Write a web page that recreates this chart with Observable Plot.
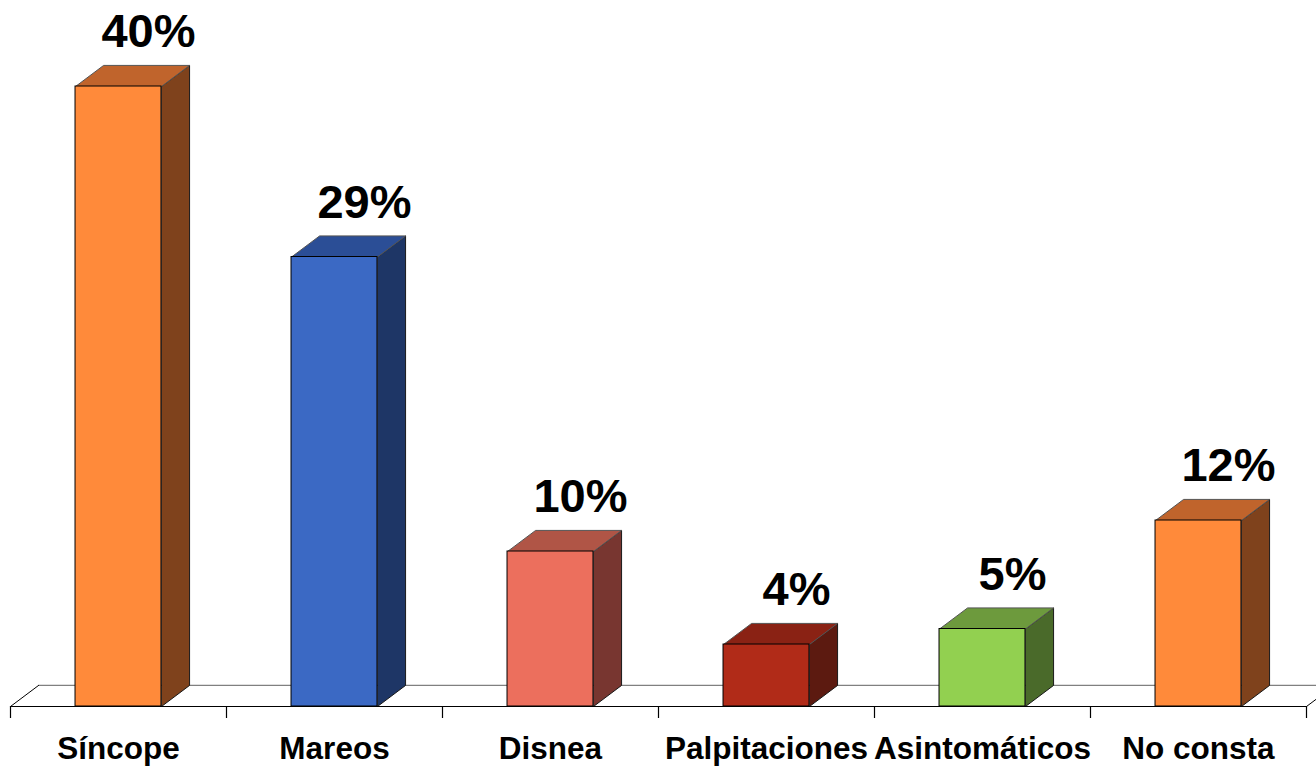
<!DOCTYPE html>
<html>
<head>
<meta charset="utf-8">
<script src="https://cdn.jsdelivr.net/npm/d3@7"></script>
<script src="https://cdn.jsdelivr.net/npm/@observablehq/plot@0.6"></script>
<style>
  html, body { margin: 0; padding: 0; background: #fff; }
  #chart svg { display: block; }
</style>
</head>
<body>
<div id="chart"></div>
<script>
// ---- data ----
const categories = ["Síncope", "Mareos", "Disnea", "Palpitaciones", "Asintomáticos", "No consta"];
const values = [40, 29, 10, 4, 5, 12];
const valueLabels = ["40%", "29%", "10%", "4%", "5%", "12%"];

// ---- styles ----
const frontColors = ["#FF8A3A", "#3B69C4", "#EC6F5D", "#B12B18", "#92D050", "#FF8A3A"];
const topColors   = ["#C0642C", "#2B4E96", "#B05546", "#8A2214", "#6D9A3D", "#C0642C"];
const sideColors  = ["#7F421C", "#1E3666", "#783630", "#5C1A10", "#4A6A2A", "#7F421C"];

// geometry (3-D depth offsets in data units)
const barWidth = 0.398;     // fraction of a category slot
const depthX = 0.13;        // ~28px
const depthY = 1.36;        // ~21px

const rows = categories.map((c, i) => ({
  i, c, v: values[i], label: valueLabels[i],
  x1: i - barWidth / 2, x2: i + barWidth / 2,
  front: frontColors[i], top: topColors[i], side: sideColors[i]
}));

const sidePts = rows.flatMap(d => [
  {k: d.c, x: d.x2, y: 0, f: d.side},
  {k: d.c, x: d.x2 + depthX, y: depthY, f: d.side},
  {k: d.c, x: d.x2 + depthX, y: d.v + depthY, f: d.side},
  {k: d.c, x: d.x2, y: d.v, f: d.side}
]);
const topPts = rows.flatMap(d => [
  {k: d.c, x: d.x1, y: d.v, f: d.top},
  {k: d.c, x: d.x1 + depthX, y: d.v + depthY, f: d.top},
  {k: d.c, x: d.x2 + depthX, y: d.v + depthY, f: d.top},
  {k: d.c, x: d.x2, y: d.v, f: d.top}
]);

const xMin = -0.5, xMax = categories.length - 0.5;
const floorBack = [{x: xMin + depthX, y: depthY}, {x: xMax + depthX, y: depthY}];
const floorFront = [{x: xMin, y: 0}, {x: xMax, y: 0}];
const floorLeft = [{x: xMin, y: 0}, {x: xMin + depthX, y: depthY}];
const floorRight = [{x: xMax, y: 0}, {x: xMax + depthX, y: depthY}];
const boundaries = d3.range(categories.length + 1).map(i => i - 0.5);

const font = "'Liberation Sans', Arial, sans-serif";

const chart = Plot.plot({
  width: 1316,
  height: 770,
  marginLeft: 10,
  marginRight: 10,
  marginTop: 8.5,
  marginBottom: 64,
  style: {fontFamily: font, background: "#fff"},
  x: {type: "linear", domain: [xMin, xMax], axis: null},
  y: {domain: [0, 45], axis: null},
  marks: [
    Plot.line(floorBack, {x: "x", y: "y", stroke: "#808080", strokeWidth: 1.2}),
    Plot.line(floorLeft, {x: "x", y: "y", stroke: "#000", strokeWidth: 1}),
    Plot.line(floorRight, {x: "x", y: "y", stroke: "#000", strokeWidth: 1}),
    Plot.axisX({ticks: boundaries, tickSize: 12, tickFormat: () => "", stroke: "#000", strokeWidth: 1.2, strokeOpacity: 1}),
    Plot.line(sidePts, {x: "x", y: "y", z: "k", fill: "f", stroke: "#1a1a1a", strokeWidth: 1, curve: "linear-closed"}),
    Plot.line(topPts, {x: "x", y: "y", z: "k", fill: "f", stroke: "#555", strokeWidth: 1, curve: "linear-closed"}),
    Plot.rect(rows, {x1: "x1", x2: "x2", y1: 0, y2: "v", fill: "front", stroke: "#000", strokeWidth: 1}),
    Plot.line(floorFront, {x: "x", y: "y", stroke: "#000", strokeWidth: 1.2}),
    Plot.text(rows, {x: "i", y: d => d.v + depthY, text: "label", dx: 30, dy: -18, lineAnchor: "bottom",
      fontSize: 47, fontWeight: "bold", fill: "#000"}),
    Plot.text(rows, {x: "i", y: 0, text: "c", dy: 52, lineAnchor: "bottom",
      fontSize: 31.5, fontWeight: "bold", fill: "#000"})
  ]
});

document.getElementById("chart").appendChild(chart);
</script>
</body>
</html>
